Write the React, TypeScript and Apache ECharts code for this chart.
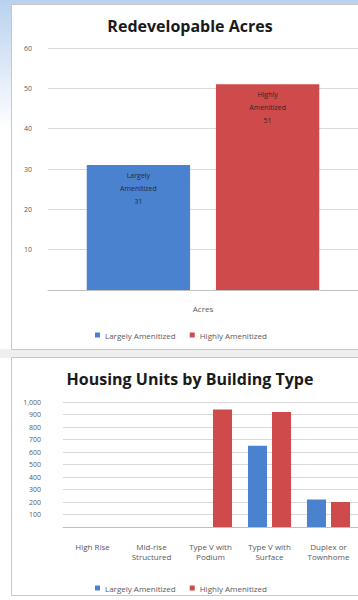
import React, { useEffect, useRef } from "react";
import * as echarts from "echarts";

const seriesNames = ["Largely Amenitized", "Highly Amenitized"];
const seriesColors = ["#4a82cf", "#cf4a4a"];

const acresTitle = "Redevelopable Acres";
const acresCategories = ["Acres"];
const acresLargely = [31];
const acresHighly = [51];
const acresMax = 60;
const acresInterval = 10;

const unitsTitle = "Housing Units by Building Type";
const unitsCategories = [
  "High Rise",
  "Mid-rise\nStructured",
  "Type V with\nPodium",
  "Type V with\nSurface",
  "Duplex or\nTownhome",
];
const unitsLargely = [0, 0, 0, 650, 220];
const unitsHighly = [0, 0, 940, 920, 200];
const unitsMax = 1000;
const unitsInterval = 100;

const FONT = "'Open Sans', 'Noto Sans', sans-serif";
const LABEL_COLOR = "#595959";
const GRID_COLOR = "#d9d9d9";

export default function App() {
  const ref = useRef<HTMLDivElement>(null);

  useEffect(() => {
    if (!ref.current) return;
    const chart = echarts.init(ref.current, undefined, { renderer: "svg" });

    const axisLabelBase = { color: LABEL_COLOR, fontFamily: FONT, fontSize: 7 };

    const barLabel = {
      show: true,
      position: "insideTop",
      distance: 4,
      color: "#2a2a2a",
      fontFamily: FONT,
      fontSize: 7,
      lineHeight: 13,
      formatter: (p: any) => p.seriesName.replace(" ", "\n") + "\n" + p.value,
    };

    const option: any = {
      animation: false,
      backgroundColor: "#ffffff",
      textStyle: { fontFamily: FONT },
      graphic: [
        {
          type: "rect",
          z: -20,
          silent: true,
          shape: { x: 0, y: 0, width: 358, height: 130 },
          style: {
            fill: new echarts.graphic.LinearGradient(0, 0, 0, 1, [
              { offset: 0, color: "#bad1ee" },
              { offset: 1, color: "#ffffff" },
            ]),
          },
        },
        {
          type: "rect",
          z: -15,
          silent: true,
          shape: { x: 0, y: 349, width: 358, height: 9 },
          style: { fill: "#efefef" },
        },
        {
          type: "rect",
          z: -10,
          silent: true,
          shape: { x: 11.5, y: 4.5, width: 400, height: 345 },
          style: { fill: "#ffffff", stroke: "#c8c8c8", lineWidth: 1 },
        },
        {
          type: "rect",
          z: -10,
          silent: true,
          shape: { x: 11.5, y: 357.5, width: 400, height: 238 },
          style: { fill: "#ffffff", stroke: "#c8c8c8", lineWidth: 1 },
        },
        {
          type: "text",
          z: 10,
          x: 190,
          y: 26,
          style: {
            text: acresTitle,
            fontFamily: FONT,
            fontWeight: "bold",
            fontSize: 16,
            fill: "#1a1a1a",
            align: "center",
            verticalAlign: "middle",
          },
        },
        {
          type: "text",
          z: 10,
          x: 190,
          y: 379,
          style: {
            text: unitsTitle,
            fontFamily: FONT,
            fontWeight: "bold",
            fontSize: 16,
            fill: "#1a1a1a",
            align: "center",
            verticalAlign: "middle",
          },
        },
      ],
      legend: [
        {
          left: 90,
          top: 326,
          icon: "rect",
          itemWidth: 5,
          itemHeight: 5,
          itemGap: 14,
          data: seriesNames,
          textStyle: { color: LABEL_COLOR, fontFamily: FONT, fontSize: 8 },
        },
        {
          left: 90,
          top: 579,
          icon: "rect",
          itemWidth: 5,
          itemHeight: 5,
          itemGap: 14,
          data: seriesNames,
          textStyle: { color: LABEL_COLOR, fontFamily: FONT, fontSize: 8 },
        },
      ],
      grid: [
        { left: 48, top: 48, width: 310, height: 242, containLabel: false },
        { left: 63, top: 402, width: 295, height: 125, containLabel: false },
      ],
      xAxis: [
        {
          type: "category",
          gridIndex: 0,
          data: acresCategories,
          axisTick: { show: false },
          axisLine: { lineStyle: { color: "#bfbfbf" } },
          axisLabel: { ...axisLabelBase, fontSize: 8, margin: 14 },
        },
        {
          type: "category",
          gridIndex: 1,
          data: unitsCategories,
          axisTick: { show: false },
          axisLine: { lineStyle: { color: "#bfbfbf" } },
          axisLabel: { ...axisLabelBase, fontSize: 8, margin: 14, lineHeight: 10 },
        },
      ],
      yAxis: [
        {
          type: "value",
          gridIndex: 0,
          min: 0,
          max: acresMax,
          interval: acresInterval,
          axisLine: { show: false },
          axisTick: { show: false },
          splitLine: { lineStyle: { color: GRID_COLOR } },
          axisLabel: {
            ...axisLabelBase,
            margin: 16,
            formatter: (v: number) => (v === 0 ? "" : String(v)),
          },
        },
        {
          type: "value",
          gridIndex: 1,
          min: 0,
          max: unitsMax,
          interval: unitsInterval,
          axisLine: { show: false },
          axisTick: { show: false },
          splitLine: { lineStyle: { color: GRID_COLOR } },
          axisLabel: {
            ...axisLabelBase,
            margin: 22,
            formatter: (v: number) =>
              v === 0 ? "" : v >= 1000 ? v.toLocaleString("en-US") : String(v),
          },
        },
      ],
      series: [
        {
          name: seriesNames[0],
          type: "bar",
          xAxisIndex: 0,
          yAxisIndex: 0,
          data: acresLargely,
          barGap: "25%",
          barCategoryGap: "25%",
          itemStyle: { color: seriesColors[0] },
          label: barLabel,
        },
        {
          name: seriesNames[1],
          type: "bar",
          xAxisIndex: 0,
          yAxisIndex: 0,
          data: acresHighly,
          barGap: "25%",
          barCategoryGap: "25%",
          itemStyle: { color: seriesColors[1] },
          label: barLabel,
        },
        {
          name: seriesNames[0],
          type: "bar",
          xAxisIndex: 1,
          yAxisIndex: 1,
          data: unitsLargely,
          barGap: "26%",
          barCategoryGap: "27%",
          itemStyle: { color: seriesColors[0] },
        },
        {
          name: seriesNames[1],
          type: "bar",
          xAxisIndex: 1,
          yAxisIndex: 1,
          data: unitsHighly,
          barGap: "26%",
          barCategoryGap: "27%",
          itemStyle: { color: seriesColors[1] },
        },
      ],
    };

    chart.setOption(option);
    return () => chart.dispose();
  }, []);

  return (
    <div
      ref={ref}
      style={{ position: "fixed", left: 0, top: 0, width: 358, height: 600 }}
    />
  );
}
